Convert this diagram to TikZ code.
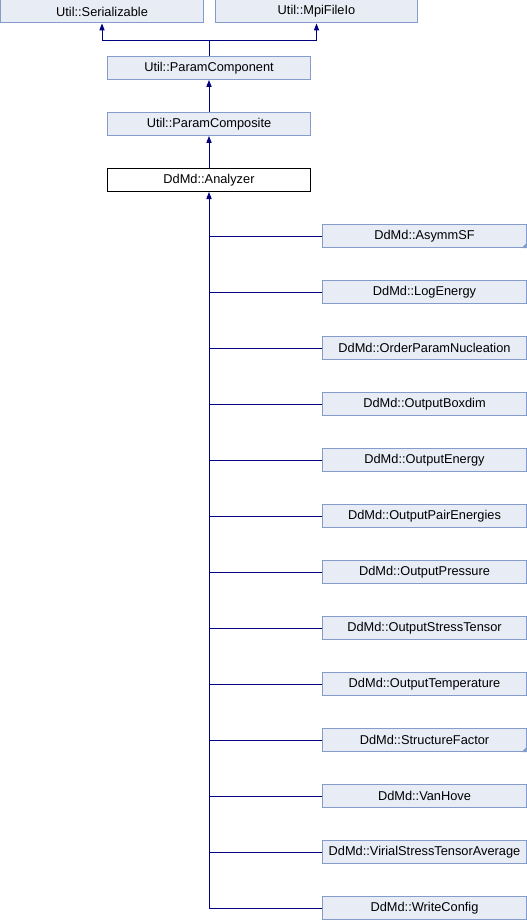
\documentclass[tikz,border=0pt]{standalone}
\usepackage{fontspec}
\setmainfont{Liberation Sans}
\usetikzlibrary{arrows.meta}
\definecolor{boxfill}{HTML}{E8ECF4}
\definecolor{boxline}{HTML}{849CCC}
\definecolor{edgecol}{HTML}{000080}
\tikzset{
  cls/.style={draw=boxline, fill=boxfill, line width=0.75pt, rectangle, inner sep=0pt,
    minimum width=152.5pt, minimum height=17.25pt, font=\fontsize{9.6pt}{11pt}\selectfont},
  curcls/.style={cls, draw=black, fill=white},
  edge/.style={draw=edgecol, line width=0.75pt},
  inh/.style={edge, -{Triangle[length=5.25pt,width=3.9pt]}},
  partial/.style={fill=boxline, draw=none}
}
\begin{document}
\begin{tikzpicture}[x=0.75pt,y=-0.75pt]
\useasboundingbox (0,0) rectangle (527,920);
\node[cls] (ser) at (102,11.5) {Util::Serializable};
\node[cls, minimum width=152pt] (mpi) at (316.5,11.5) {Util::MpiFileIo};
\node[cls] (pc) at (209,68) {Util::ParamComponent};
\node[cls] (pcomp) at (209,124) {Util::ParamComposite};
\node[curcls] (an) at (209,180) {DdMd::Analyzer};
\foreach \n/\t [count=\i from 0] in {
  a/AsymmSF, b/LogEnergy, c/OrderParamNucleation, d/OutputBoxdim, e/OutputEnergy,
  f/OutputPairEnergies, g/OutputPressure, h/OutputStressTensor, k/OutputTemperature,
  l/StructureFactor, m/VanHove, n/VirialStressTensorAverage, o/WriteConfig}{
  \node[cls] (s\n) at (424.5,236+56*\i) {DdMd::\t};
  \draw[edge] (s\n.west) -- (an.south |- s\n.west);
}
\fill[boxline] (sa.south east) -- ++(-5,0) -- ++(5,-5) -- cycle;
\fill[boxline] (sl.south east) -- ++(-5,0) -- ++(5,-5) -- cycle;
\draw[inh] (an.south |- so.west) -- (an.south);
\draw[inh] (an.north) -- (pcomp.south);
\draw[inh] (pcomp.north) -- (pc.south);
\coordinate (split) at (209,40.7);
\draw[edge] (pc.north) -- (split);
\draw[inh] (split) -| (ser.south);
\draw[inh] (split) -| (mpi.south);
\end{tikzpicture}
\end{document}
